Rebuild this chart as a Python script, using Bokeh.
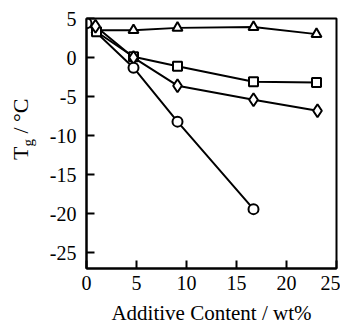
from bokeh.plotting import figure
from bokeh.models import FixedTicker, Div
from bokeh.layouts import row
from bokeh.embed import file_html
from bokeh.resources import INLINE

# data
circ_x = [0.0, 4.7, 9.1, 16.7]
circ_y = [4.4, -1.3, -8.2, -19.4]
diam_x = [0.9, 4.7, 9.1, 16.7, 23.1]
diam_y = [4.0, 0.0, -3.6, -5.4, -6.8]
sq_x = [1.0, 4.7, 9.1, 16.7, 23.0]
sq_y = [3.3, 0.1, -1.1, -3.1, -3.2]
tri_x = [1.0, 4.7, 9.1, 16.7, 23.0]
tri_y = [3.5, 3.5, 3.8, 3.9, 3.0]
x_ticks = [0, 5, 10, 15, 20, 25]
y_ticks = [5, 0, -5, -10, -15, -20, -25]

FONT = "'Liberation Serif', serif"
DIV_W = 40

p = figure(frame_width=250, frame_height=250, x_range=(0, 25), y_range=(-27, 5),
           output_backend="svg", toolbar_location=None,
           min_border_left=86 - DIV_W, min_border_right=4, min_border_top=18, min_border_bottom=40)
p.xgrid.visible = False
p.ygrid.visible = False
p.outline_line_color = "black"
p.outline_line_width = 2
p.background_fill_color = "white"
p.border_fill_color = "white"

p.xaxis.ticker = FixedTicker(ticks=x_ticks)
p.yaxis.ticker = FixedTicker(ticks=y_ticks)
p.yaxis.major_label_overrides = {t: str(t) for t in y_ticks}
for ax in (p.xaxis[0], p.yaxis[0]):
    ax.major_tick_in = 8
    ax.major_tick_out = 0
    ax.minor_tick_in = 0
    ax.minor_tick_out = 0
    ax.major_tick_line_width = 2
    ax.major_tick_line_color = "black"
    ax.axis_line_width = 2
    ax.axis_line_color = "black"
    ax.major_label_text_font = FONT
    ax.major_label_text_font_size = "20px"
    ax.major_label_text_color = "black"
p.xaxis.major_label_standoff = 7
p.yaxis.major_label_standoff = 10

p.xaxis.axis_label = "Additive Content / wt%"
p.xaxis.axis_label_text_font = FONT
p.xaxis.axis_label_text_font_size = "21px"
p.xaxis.axis_label_text_font_style = "normal"
p.xaxis.axis_label_text_color = "black"
p.xaxis.axis_label_standoff = 8

# lines
for xs, ys in [(circ_x, circ_y), (diam_x, diam_y), (sq_x, sq_y), (tri_x, tri_y)]:
    p.line(xs, ys, line_color="black", line_width=2)

# markers
p.scatter(tri_x, tri_y, marker="triangle", size=10, fill_color="white", line_color="black", line_width=2)
p.scatter(sq_x, sq_y, marker="square", size=9, fill_color="white", line_color="black", line_width=2)
p.scatter(diam_x, diam_y, marker="diamond", size=13, fill_color="white", line_color="black", line_width=2)
p.scatter(circ_x, circ_y, marker="circle", size=10, fill_color="white", line_color="black", line_width=2)

# y-axis label as rotated HTML text with a real subscript
ylabel_html = (
    '<div style="margin:0; padding:0; padding-left:8px; padding-top:160px;">'
    '<div style="transform-origin:0 0; transform:rotate(-90deg); white-space:nowrap; '
    "font-family:'Liberation Serif', serif; font-size:22px; line-height:25px; color:#000000; "
    'width:80px; height:25px;">'
    'T<span style="position:relative; top:5px; font-size:15px;">g</span> / °C'
    '</div></div>'
)
ylabel = Div(text=ylabel_html, width=DIV_W, height=300, margin=(0, 0, 0, 0))

layout = row(ylabel, p, spacing=0)

open("out.html", "w").write(file_html(layout, INLINE))
